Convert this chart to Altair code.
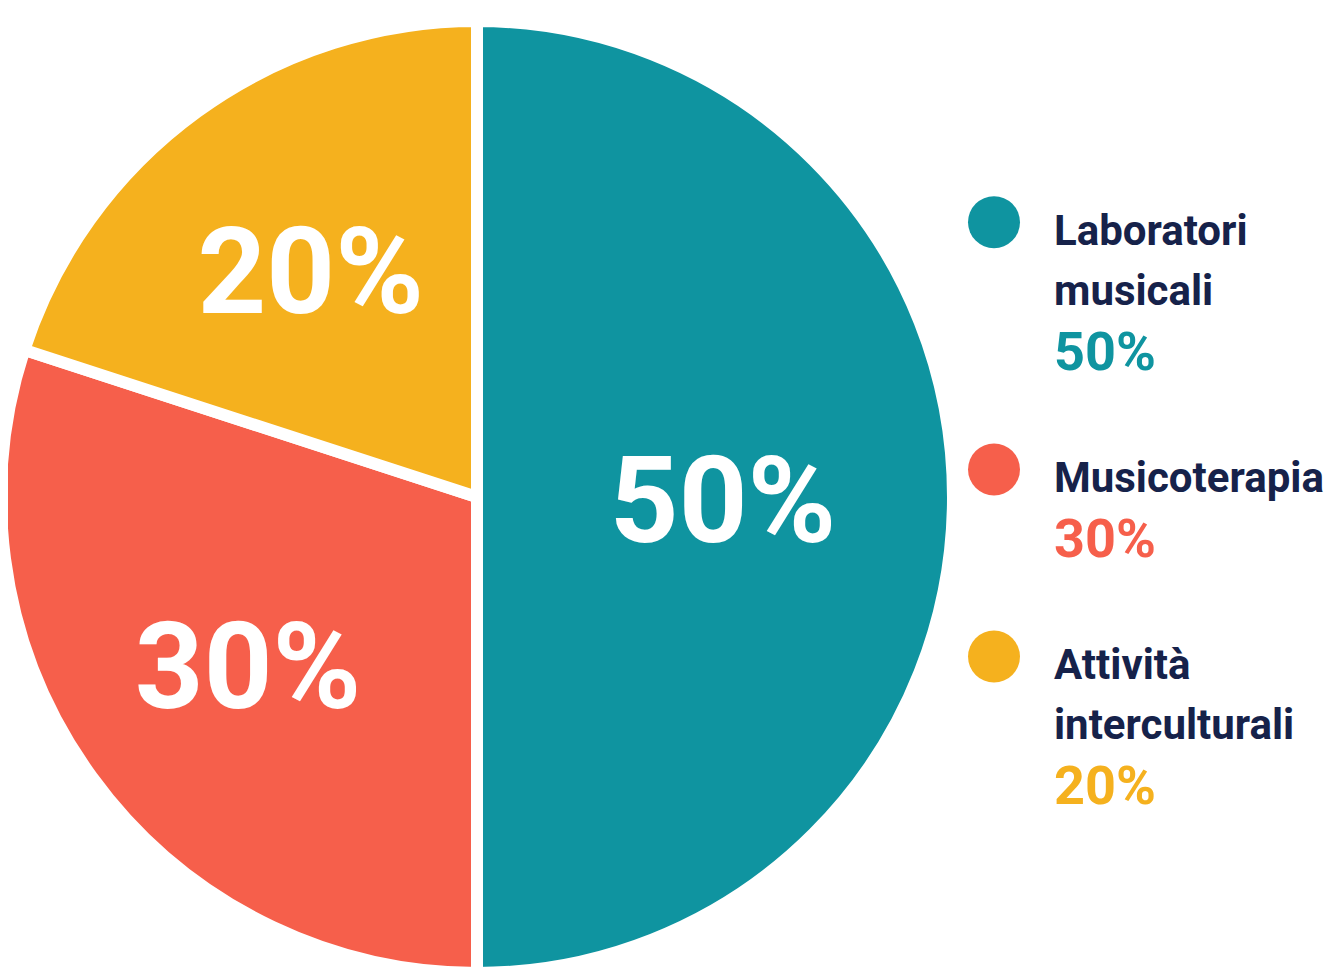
import altair as alt
import pandas as pd

# ---- data ----
categories = ["Laboratori musicali", "Musicoterapia", "Attività interculturali"]
values = [50, 30, 20]
name_lines = [["Laboratori", "musicali"], ["Musicoterapia"], ["Attività", "interculturali"]]
colors = ["#0F94A0", "#F65F4B", "#F5B11E"]

df = pd.DataFrame({
    "category": categories,
    "value": values,
    "lines": name_lines,
    "order": list(range(len(categories))),
})

color_scale = alt.Scale(domain=categories, range=colors)
base = alt.Chart(df)

CX, CY = 469, 489

pie = base.mark_arc(outerRadius=476, stroke="white", strokeWidth=12, strokeJoin="round").encode(
    theta=alt.Theta("value:Q", stack=True),
    color=alt.Color("category:N", scale=color_scale, legend=None),
    order=alt.Order("order:Q"),
    x=alt.value(CX),
    y=alt.value(CY),
)

pie_text = base.transform_window(
    cum="sum(value)", sort=[alt.SortField("order")], frame=[None, 0]
).transform_calculate(
    mid="datum.cum - datum.value / 2",
    r="datum.value >= 50 ? 246 : 283",
    label="datum.value + '%'",
).mark_text(
    font="Roboto", fontWeight="bold", fontSize=120, color="white",
    align="center", baseline="middle", dy=9,
).encode(
    theta=alt.Theta("mid:Q", stack=None),
    radius=alt.Radius("r:Q", scale=None),
    text=alt.Text("label:N"),
    x=alt.value(CX),
    y=alt.value(CY),
)

# ---- custom legend ----
leg = base.transform_calculate(
    n="length(datum.lines)",
    step="length(datum.lines) + 2.12",
).transform_window(
    cum="sum(step)", sort=[alt.SortField("order")], frame=[None, 0]
).transform_calculate(
    start="datum.cum - datum.step",
    pctpos="datum.cum - datum.step + datum.n - 1 + 1.08",
    cpos="datum.cum - datum.step - 0.38",
    pct="datum.value + '%'",
)

yscale = alt.Scale(domain=[0, 10], range=[237, 837])

leg_dots = leg.mark_circle(size=2700, opacity=1).encode(
    x=alt.value(986),
    y=alt.Y("cpos:Q", scale=yscale, axis=None),
    color=alt.Color("category:N", scale=color_scale, legend=None),
)

leg_names = leg.mark_text(
    align="left", baseline="alphabetic", font="Roboto",
    fontWeight="bold", fontSize=42, lineHeight=60, color="#16224A",
).encode(
    x=alt.value(1046),
    y=alt.Y("start:Q", scale=yscale, axis=None),
    text=alt.Text("lines"),
)

leg_pct = leg.mark_text(
    align="left", baseline="alphabetic", font="Roboto",
    fontWeight="bold", fontSize=54,
).encode(
    x=alt.value(1046),
    y=alt.Y("pctpos:Q", scale=yscale, axis=None),
    text=alt.Text("pct:N"),
    color=alt.Color("category:N", scale=color_scale, legend=None),
)

chart = alt.layer(pie, pie_text, leg_dots, leg_names, leg_pct).properties(
    width=1317, height=963, padding=0,
    autosize=alt.AutoSizeParams(type="none"),
).configure_view(stroke=None)

chart.save("out.html", embed_options={"renderer": "svg", "actions": False})
